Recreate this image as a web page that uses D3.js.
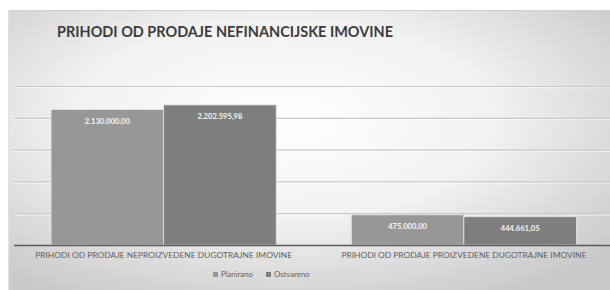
<!DOCTYPE html>
<html>
<head>
<meta charset="utf-8">
<script src="https://cdn.jsdelivr.net/npm/d3@7"></script>
<style>
  html, body { margin: 0; padding: 0; background: #fff; }
  svg { display: block; }
</style>
</head>
<body>
<svg id="chart" width="610" height="290"></svg>
<script>
// values
const categories = [
  "PRIHODI OD PRODAJE NEPROIZVEDENE DUGOTRAJNE IMOVINE",
  "PRIHODI OD PRODAJE PROIZVEDENE DUGOTRAJNE IMOVINE"
];
const seriesNames = ["Planirano", "Ostvareno"];
const planirano = [2130000.00, 475000.00];
const ostvareno = [2202595.98, 444661.05];
const yTicks = [0, 500000, 1000000, 1500000, 2000000, 2500000];
const titleText = "PRIHODI OD PRODAJE NEFINANCIJSKE IMOVINE";

const seriesColors = { Planirano: "#979797", Ostvareno: "#7e7e7e" };

const svg = d3.select("#chart"),
  margin = { top: 86, right: -4, bottom: 45, left: 13.5 },
  width = 610 - margin.left - margin.right,
  height = 290 - margin.top - margin.bottom;

// panel background
const defs = svg.append("defs");
const grad = defs.append("radialGradient")
  .attr("id", "bg")
  .attr("cx", "45%").attr("cy", "38%").attr("r", "70%");
grad.append("stop").attr("offset", "0%").attr("stop-color", "#ffffff");
grad.append("stop").attr("offset", "50%").attr("stop-color", "#f1f1f1");
grad.append("stop").attr("offset", "100%").attr("stop-color", "#c9c9c9");

svg.append("rect")
  .attr("x", 8).attr("y", 10)
  .attr("width", 610).attr("height", 290)
  .attr("fill", "url(#bg)");
svg.append("line")
  .attr("x1", 8).attr("x2", 610).attr("y1", 10.5).attr("y2", 10.5)
  .attr("stroke", "#d0d0d0");
svg.append("line")
  .attr("x1", 8.5).attr("x2", 8.5).attr("y1", 10).attr("y2", 290)
  .attr("stroke", "#e2e2e2");

// title
svg.append("text")
  .attr("x", 57).attr("y", 37)
  .attr("font-family", "Lato, 'Open Sans', sans-serif")
  .attr("font-weight", 700)
  .attr("font-size", 14.5)
  .attr("textLength", 336)
  .attr("lengthAdjust", "spacingAndGlyphs")
  .attr("fill", "#3c3c3c")
  .text(titleText);

const g = svg.append("g")
  .attr("transform", `translate(${margin.left},${margin.top})`);

const x0 = d3.scaleBand().domain(categories).range([0, width]);
const x1 = d3.scaleBand().domain(seriesNames)
  .range([0, x0.bandwidth()]).paddingOuter(1 / 3);
const y = d3.scaleLinear().domain([0, 2500000]).range([height, 0]);

// gridlines
const grid = g.append("g")
  .call(d3.axisLeft(y).tickValues(yTicks.slice(1)).tickSize(-width).tickFormat(""));
grid.select(".domain").remove();
grid.selectAll(".tick line")
  .attr("stroke", "#c8c8c8")
  .attr("stroke-width", 1.2);
grid.selectAll(".tick").append("line")
  .attr("x2", width).attr("y1", 1.3).attr("y2", 1.3)
  .attr("stroke", "#ffffff").attr("stroke-opacity", 0.6);

const rows = categories.map((c, i) => ({
  cat: c,
  values: [
    { key: "Planirano", value: planirano[i] },
    { key: "Ostvareno", value: ostvareno[i] }
  ]
}));

const hr = d3.formatLocale({
  decimal: ",", thousands: ".", grouping: [3], currency: ["", ""]
});
const fmt = hr.format(",.2f");

const groups = g.selectAll(".cat")
  .data(rows)
  .join("g")
  .attr("class", "cat")
  .attr("transform", (d) => `translate(${x0(d.cat)},0)`);

groups.selectAll("rect")
  .data((d) => d.values)
  .join("rect")
  .attr("x", (d) => x1(d.key))
  .attr("y", (d) => y(d.value))
  .attr("width", x1.bandwidth())
  .attr("height", (d) => y(0) - y(d.value))
  .attr("fill", (d) => seriesColors[d.key])
  .attr("stroke", "#e6e6e6")
  .attr("stroke-width", 0.8);

groups.selectAll("text.val")
  .data((d) => d.values)
  .join("text")
  .attr("class", "val")
  .attr("x", (d) => x1(d.key) + x1.bandwidth() / 2)
  .attr("y", (d) => y(d.value) + 14.5)
  .attr("text-anchor", "middle")
  .attr("font-family", "Lato, 'Open Sans', sans-serif")
  .attr("font-weight", 700)
  .attr("font-size", 7.6)
  .attr("fill", "#f6f6f6")
  .text((d) => fmt(d.value));

// baseline / x axis
const xAxis = g.append("g")
  .attr("transform", `translate(0,${height})`)
  .call(d3.axisBottom(x0).tickSize(0).tickPadding(8));
xAxis.select(".domain")
  .attr("stroke", "#5a5a5a")
  .attr("stroke-width", 1.6);
xAxis.selectAll(".tick text")
  .attr("font-family", "Lato, 'Open Sans', sans-serif")
  .attr("font-size", 7.2)
  .attr("fill", "#5e5e5e")
  .attr("textLength", (d, i) => [257, 245][i])
  .attr("lengthAdjust", "spacingAndGlyphs");

// legend
const legend = svg.append("g").attr("transform", "translate(213,277)");
const legendX = [0, 53];
seriesNames.forEach((name, i) => {
  const lg = legend.append("g").attr("transform", `translate(${legendX[i]},0)`);
  lg.append("rect")
    .attr("x", 0).attr("y", -5)
    .attr("width", 5).attr("height", 5)
    .attr("fill", seriesColors[name]);
  lg.append("text")
    .attr("x", 8).attr("y", 0)
    .attr("font-family", "Lato, 'Open Sans', sans-serif")
    .attr("font-size", 7.8)
    .attr("fill", "#606060")
    .text(name);
});
</script>
</body>
</html>
